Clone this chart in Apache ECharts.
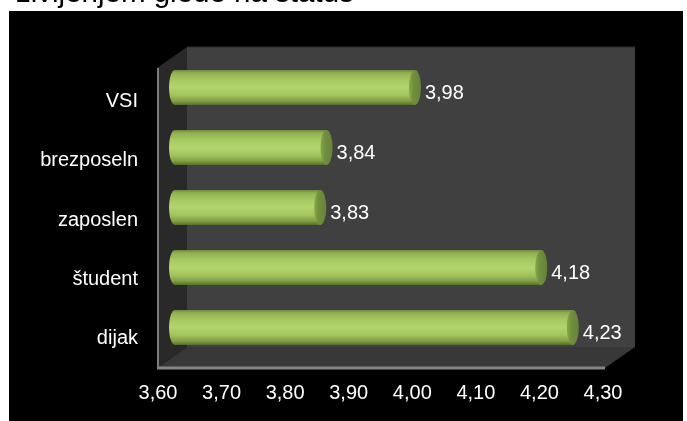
<!DOCTYPE html>
<html><head><meta charset="utf-8">
<script src="https://cdn.jsdelivr.net/npm/echarts@6/dist/echarts.min.js"></script>
<style>html,body{margin:0;padding:0;background:#fff;}#c{width:687px;height:421px;}</style>
</head><body><div id="c"></div>
<script>
const titleText = 'življenjem glede na status';
const categories = ['dijak', 'študent', 'zaposlen', 'brezposeln', 'VSI'];
const values = [4.23, 4.18, 3.83, 3.84, 3.98];
const axisMin = 3.6, axisMax = 4.3, axisStep = 0.1;

const fmt = v => v.toFixed(2).replace('.', ',');
const FONT = '"Liberation Sans", Arial, sans-serif';

// 3D frame geometry (decoration)
const F = {l: 157, b: 368, r: 605, t: 68, dx: 30, dy: -21};

const chart = echarts.init(document.getElementById('c'));
const bodyGrad = new echarts.graphic.LinearGradient(0, 0, 0, 1, [
  {offset: 0, color: '#6c883a'},
  {offset: 0.08, color: '#90b151'},
  {offset: 0.3, color: '#a8ca63'},
  {offset: 0.5, color: '#b2d56c'},
  {offset: 0.72, color: '#a2c35d'},
  {offset: 0.88, color: '#84a247'},
  {offset: 1, color: '#55702a'}
]);
const capGrad = new echarts.graphic.LinearGradient(0, 0, 1, 0, [
  {offset: 0, color: '#88a84a'},
  {offset: 0.35, color: '#71903e'},
  {offset: 1, color: '#66823a'}
]);

chart.setOption({
  backgroundColor: '#ffffff',
  animation: false,
  graphic: [
    {type: 'text', left: 16, top: -21, z: 10, style: {text: titleText, fill: '#000', font: '29.5px ' + FONT}},
    {type: 'rect', z: -10, shape: {x: 9, y: 11, width: 674, height: 410}, style: {fill: '#000'}},
    {type: 'rect', z: -9, shape: {x: F.l + F.dx, y: F.t + F.dy, width: F.r - F.l, height: F.b - F.t}, style: {fill: '#404040'}},
    {type: 'polygon', z: -8, shape: {points: [[F.l, F.t], [F.l + F.dx, F.t + F.dy], [F.l + F.dx, F.b + F.dy], [F.l, F.b]]}, style: {fill: '#292929'}},
    {type: 'polygon', z: -8, shape: {points: [[F.l, F.b], [F.l + F.dx, F.b + F.dy], [F.r + F.dx, F.b + F.dy], [F.r, F.b]]}, style: {fill: '#383838'}},
    {type: 'line', z: -7, shape: {x1: F.l + F.dx, y1: F.t + F.dy, x2: F.r + F.dx, y2: F.t + F.dy}, style: {stroke: '#2c2c2c', lineWidth: 1}},
    {type: 'line', z: -7, shape: {x1: F.l + 1, y1: F.t, x2: F.l + 1, y2: F.b}, style: {stroke: '#7c7c7c', lineWidth: 2}},
    {type: 'line', z: -7, shape: {x1: F.l, y1: F.b, x2: F.r, y2: F.b}, style: {stroke: '#858585', lineWidth: 3}}
  ],
  grid: [
    {left: 158, right: 84, top: 72, bottom: 53},
    {left: 175, right: 70, top: 57.5, bottom: 63.5}
  ],
  xAxis: [
    {gridIndex: 0, type: 'value', min: axisMin, max: axisMax, interval: axisStep,
     axisLine: {show: false}, axisTick: {show: false}, splitLine: {show: false},
     axisLabel: {color: '#fff', fontSize: 20, fontFamily: FONT, margin: 15, formatter: v => fmt(v)}},
    {gridIndex: 1, type: 'value', min: axisMin, max: axisMax, show: false}
  ],
  yAxis: [
    {gridIndex: 0, type: 'category', data: categories,
     axisLine: {show: false}, axisTick: {show: false}, splitLine: {show: false},
     axisLabel: {color: '#fff', fontSize: 20, fontFamily: FONT, margin: 20}},
    {gridIndex: 1, type: 'category', data: categories, show: false}
  ],
  series: [{
    type: 'custom',
    xAxisIndex: 1, yAxisIndex: 1,
    data: values.map((v, i) => [v, categories[i]]),
    encode: {x: 0, y: 1},
    renderItem: function (params, api) {
      const v = api.value(0);
      const cat = api.value(1);
      const s = api.coord([axisMin, cat]);
      const e = api.coord([v, cat]);
      const h = api.size([0, 1])[1] * 0.58;
      const cy = s[1];
      const rx = 6;
      return {type: 'group', children: [
        {type: 'ellipse', shape: {cx: s[0], cy: cy, rx: rx, ry: h / 2}, style: {fill: bodyGrad}},
        {type: 'rect', shape: {x: s[0], y: cy - h / 2, width: e[0] - s[0], height: h}, style: {fill: bodyGrad}},
        {type: 'ellipse', shape: {cx: e[0], cy: cy, rx: rx, ry: h / 2}, style: {fill: capGrad}},
        {type: 'text', style: {x: e[0] + rx + 4, y: cy + 6, text: fmt(v), fill: '#fff', font: '20px ' + FONT, verticalAlign: 'middle', align: 'left'}}
      ]};
    }
  }]
});
</script></body></html>
